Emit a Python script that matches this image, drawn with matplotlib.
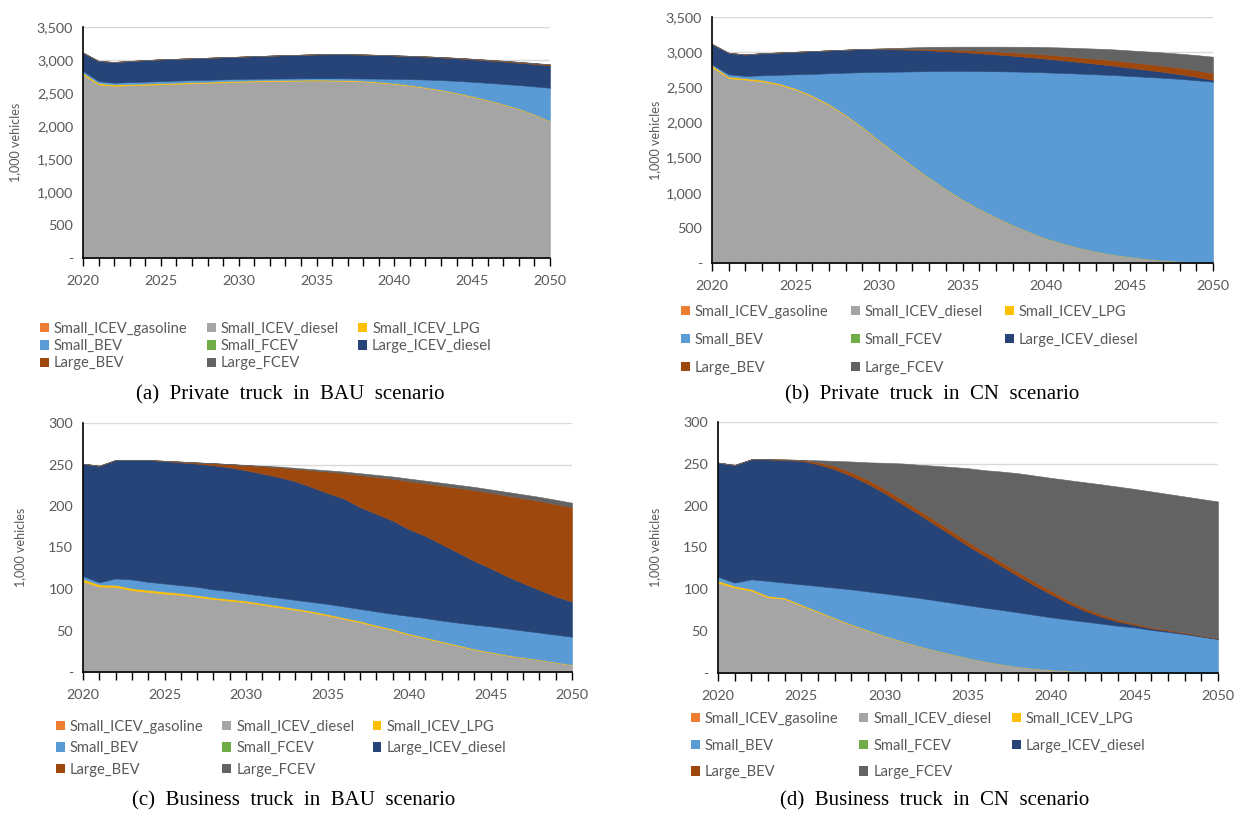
import matplotlib.pyplot as plt
import numpy as np
from matplotlib.patches import Patch
from matplotlib.ticker import FuncFormatter, MultipleLocator

years = np.arange(2020, 2051)

labels = ["Small_ICEV_gasoline", "Small_ICEV_diesel", "Small_ICEV_LPG", "Small_BEV",
          "Small_FCEV", "Large_ICEV_diesel", "Large_BEV", "Large_FCEV"]
colors = ["#ED7D31", "#A5A5A5", "#FFC000", "#5B9BD5",
          "#70AD47", "#264478", "#9E480E", "#636363"]

# unused powertrains (no stock in any scenario)
none = [0, 0, 0, 0, 0, 0, 0, 0, 0, 0, 0, 0, 0, 0, 0, 0,
        0, 0, 0, 0, 0, 0, 0, 0, 0, 0, 0, 0, 0, 0, 0]

# (a) private truck, BAU
pb_small_diesel = [2780, 2630, 2610, 2618, 2625, 2632, 2640, 2648, 2655, 2663, 2670, 2676, 2680, 2684, 2688, 2690,
                   2688, 2684, 2676, 2660, 2640, 2612, 2580, 2542, 2496, 2445, 2388, 2326, 2258, 2172, 2070]
pb_small_lpg = [25, 22, 20, 19, 18, 18, 17, 17, 16, 16, 15, 15, 15, 14, 14, 14,
                13, 13, 12, 12, 12, 11, 11, 10, 10, 10, 9, 9, 8, 8, 8]
pb_small_bev = [29, 28, 26, 28, 29, 30, 31, 30, 29, 27, 27, 25, 23, 22, 20, 20,
                23, 25, 32, 46, 63, 87, 113, 144, 178, 215, 257, 303, 354, 420, 502]
pb_large_diesel = [278, 305, 314, 320, 326, 330, 330, 331, 334, 336, 338, 342, 348, 354, 358, 362,
                   363, 365, 363, 358, 353, 349, 346, 342, 341, 340, 339, 339, 339, 339, 338]
pb_large_bev = [0, 0, 0, 0, 0, 0, 0, 0, 0, 0, 0, 0, 0, 0, 0, 0,
                0, 0, 1, 2, 3, 4, 5, 6, 7, 8, 9, 10, 11, 12, 13]
pb_large_fcev = [0, 0, 0, 0, 0, 0, 0, 0, 0, 0, 0, 0, 0, 0, 0, 0,
                 0, 0, 0, 0, 1, 1, 1, 2, 2, 2, 3, 3, 3, 4, 4]

# (b) private truck, CN
pc_small_diesel = [2790, 2630, 2610, 2585, 2540, 2470, 2370, 2250, 2100, 1930, 1740, 1560, 1380, 1210, 1050, 900,
                   770, 650, 540, 440, 350, 280, 215, 165, 120, 90, 60, 40, 25, 12, 5]
pc_small_lpg = [25, 22, 20, 20, 18, 16, 15, 14, 12, 10, 9, 8, 7, 6, 5, 5,
                4, 4, 3, 3, 2, 2, 2, 1, 1, 1, 1, 0, 0, 0, 0]
pc_small_bev = [11, 33, 31, 65, 120, 199, 305, 436, 596, 775, 971, 1154, 1339, 1514, 1677, 1827,
                1956, 2074, 2182, 2277, 2360, 2422, 2478, 2519, 2554, 2571, 2587, 2595, 2595, 2588, 2575]
pc_large_diesel = [289, 305, 306, 315, 317, 320, 325, 325, 327, 330, 325, 318, 308, 296, 282, 268,
                   254, 240, 225, 210, 195, 180, 165, 150, 135, 118, 102, 85, 68, 48, 25]
pc_large_bev = [0, 0, 0, 0, 0, 0, 0, 0, 0, 0, 5, 10, 15, 20, 25, 30,
                36, 42, 48, 54, 60, 64, 68, 72, 76, 80, 84, 88, 92, 95, 98]
pc_large_fcev = [0, 0, 0, 0, 0, 0, 0, 0, 0, 0, 2, 10, 19, 29, 38, 48,
                 58, 68, 79, 92, 105, 118, 130, 143, 154, 165, 176, 187, 198, 215, 232]

# (c) business truck, BAU
bb_small_diesel = [109, 103, 102.5, 98.5, 96.5, 94.5, 93, 90.5, 88, 86, 84, 81, 78, 75, 72, 68,
                   64, 60, 55, 50.5, 45, 40.5, 36, 31.5, 27, 23.5, 20, 17, 14.5, 11.5, 8.5]
bb_small_lpg = [3, 2.5, 2.5, 2.5, 2.5, 2.5, 2.2, 2.2, 2, 2, 2, 2, 2, 1.8, 1.8, 1.8,
                1.6, 1.6, 1.5, 1.5, 1.4, 1.3, 1.2, 1.1, 1, 0.9, 0.8, 0.7, 0.6, 0.5, 0.5]
bb_small_bev = [3.5, 2.5, 7.7, 10.5, 9.6, 9.6, 9.4, 9.9, 9.5, 9.5, 8.5, 9, 9.5, 10.2, 10.7, 12.2,
                13.4, 14.4, 16.5, 18, 21.1, 23.2, 24.8, 26.9, 29, 30.6, 31.7, 32.3, 32.4, 33, 33.5]
bb_large_diesel = [135.5, 140.5, 142.7, 143.9, 146.8, 147.4, 147.9, 148.4, 149.5, 149, 148.5, 147, 145.5, 143, 138.5, 133.7,
                   130, 122.6, 117.5, 112.4, 104.5, 99, 92, 84.5, 77, 70, 63, 57, 51.5, 46, 42.5]
bb_large_bev = [0, 0, 0, 0, 0, 0.5, 1, 1.5, 2.5, 4, 6.2, 9, 11.7, 15, 20.2, 25.7,
                30.6, 38.7, 44.5, 50.4, 58, 63.3, 70.6, 77.9, 85.2, 91, 97.2, 102.4, 107.1, 111.3, 113.5]
bb_large_fcev = [0, 0, 0, 0, 0, 0, 0, 0, 0, 0, 0.3, 0.5, 0.8, 1, 1.3, 1.6,
                 1.9, 2.2, 2.5, 2.7, 3, 3.2, 3.4, 3.6, 3.8, 4, 4.3, 4.6, 4.9, 5.2, 5.5]

# (d) business truck, CN
bc_small_diesel = [108, 102, 98.5, 90.5, 88.5, 80.5, 73, 65, 57.5, 50.5, 44, 38, 32.2, 27.2, 22.5, 17.8,
                   13.9, 10.6, 7.5, 5.5, 3.9, 2.7, 1.9, 1.2, 0.8, 0.5, 0.3, 0.2, 0.1, 0.05, 0]
bc_small_lpg = [2.5, 2.2, 2, 1.8, 1.6, 1.4, 1.2, 1, 0.9, 0.8, 0.6, 0.5, 0.4, 0.3, 0.3, 0.2,
                0.2, 0.1, 0.1, 0.1, 0.1, 0, 0, 0, 0, 0, 0, 0, 0, 0, 0]
bc_small_bev = [4.5, 3.8, 11.5, 17.7, 17.9, 24.1, 29.8, 36, 41.6, 46.2, 50.4, 54, 57.4, 59.5, 61.2, 63,
                63.9, 64.8, 64.9, 63.9, 62.5, 61.3, 59.6, 57.8, 55.7, 54, 51.2, 48.8, 46.4, 43.45, 40.5]
bc_large_diesel = [136.5, 140.7, 143.4, 145.2, 146.5, 147.5, 145.5, 141.5, 135.5, 128.5, 120, 110, 100.5, 90.5, 81, 71,
                   62, 52.5, 43.5, 35, 27.5, 19.5, 13, 8.3, 5, 3, 2, 1.5, 1, 0.7, 0.5]
bc_large_bev = [0, 0, 0, 0.3, 0.7, 1.2, 2.5, 4, 4.6, 5, 5.3, 5.5, 5.3, 5.2, 5, 5,
                4.8, 4.8, 4.7, 4.5, 4.3, 3.5, 3.2, 2.7, 2.3, 1.8, 1.5, 1.2, 1, 0.8, 0.6]
bc_large_fcev = [0, 0, 0, 0, 0, 0.1, 2.2, 6, 12.7, 20.8, 30.9, 42.5, 53.2, 65, 76.3, 87.8,
                 97.6, 108, 118.1, 127, 134.9, 143.6, 150.3, 155.5, 159, 160.7, 162, 162.3, 162.5, 163, 163.4]

W, H = 1241, 815
SANS = "Lato"
TEXT_GRAY = "#595959"


def px_rect(left, top, right, bottom):
    return [left / W, 1 - bottom / H, (right - left) / W, (bottom - top) / H]


def dash_zero(v, pos):
    return "-" if v == 0 else f"{v:,.0f}"


panels = [
    dict(stack=[none, pb_small_diesel, pb_small_lpg, pb_small_bev, none, pb_large_diesel, pb_large_bev, pb_large_fcev],
         box=(83, 27, 550, 258), ymax=3500, ystep=500, ylab_x=15,
         leg=(40, 322), leg_space=0.22, col_space=1.3,
         caption="(a)  Private  truck  in  BAU  scenario", cap=(290, 395)),
    dict(stack=[none, pc_small_diesel, pc_small_lpg, pc_small_bev, none, pc_large_diesel, pc_large_bev, pc_large_fcev],
         box=(712, 17, 1213, 263), ymax=3500, ystep=500, ylab_x=655,
         leg=(681, 305), leg_space=0.95, col_space=1.5,
         caption="(b)  Private  truck  in  CN  scenario", cap=(932, 395)),
    dict(stack=[none, bb_small_diesel, bb_small_lpg, bb_small_bev, none, bb_large_diesel, bb_large_bev, bb_large_fcev],
         box=(83, 423, 572, 672), ymax=300, ystep=50, ylab_x=20,
         leg=(56, 720), leg_space=0.5, col_space=1.25,
         caption="(c)  Business  truck  in  BAU  scenario", cap=(294, 801)),
    dict(stack=[none, bc_small_diesel, bc_small_lpg, bc_small_bev, none, bc_large_diesel, bc_large_bev, bc_large_fcev],
         box=(718, 422, 1218, 673), ymax=300, ystep=50, ylab_x=655,
         leg=(691, 712), leg_space=0.85, col_space=1.4,
         caption="(d)  Business  truck  in  CN  scenario", cap=(935, 801)),
]

fig = plt.figure(figsize=(W / 100, H / 100), dpi=100)

# legend entries are listed column by column so that they read row by row
leg_order = [0, 3, 6, 1, 4, 7, 2, 5]

for p in panels:
    ax = fig.add_axes(px_rect(*p["box"]))
    layers = ax.stackplot(years, *p["stack"], colors=colors)
    for poly, values, c in zip(layers, p["stack"], colors):
        # outline in the fill colour hides seams; empty layers get no outline
        poly.set_edgecolor(c)
        poly.set_linewidth(0.4 if max(values) > 0 else 0)

    ax.set_xlim(2020, 2050)
    ax.set_ylim(0, p["ymax"])
    ax.xaxis.set_major_locator(MultipleLocator(5))
    ax.xaxis.set_minor_locator(MultipleLocator(1))
    ax.yaxis.set_major_locator(MultipleLocator(p["ystep"]))
    ax.yaxis.set_major_formatter(FuncFormatter(dash_zero))
    ax.tick_params(axis="x", which="both", direction="out", length=6, width=1, color="black",
                   labelsize=10.4, labelcolor=TEXT_GRAY, pad=6)
    ax.tick_params(axis="y", length=0, labelsize=10.4, labelcolor=TEXT_GRAY, pad=7)
    for t in ax.get_xticklabels() + ax.get_yticklabels():
        t.set_fontfamily(SANS)

    ax.grid(axis="y", color="#D9D9D9", linewidth=1)
    ax.set_axisbelow(True)
    for side in ("top", "right"):
        ax.spines[side].set_visible(False)
    for side in ("left", "bottom"):
        ax.spines[side].set_color("black")
        ax.spines[side].set_linewidth(1.2)

    top, bottom = p["box"][1], p["box"][3]
    fig.text(p["ylab_x"] / W, 1 - (top + bottom) / 2 / H, "1,000 vehicles", rotation=90,
             ha="center", va="center", fontsize=9, color=TEXT_GRAY, family=SANS)

    handles = [Patch(facecolor=c, edgecolor="none") for c in colors]
    fig.legend([handles[i] for i in leg_order], [labels[i] for i in leg_order],
               ncol=3, loc="upper left", bbox_to_anchor=(p["leg"][0] / W, 1 - p["leg"][1] / H),
               frameon=False, borderpad=0, borderaxespad=0, handlelength=0.6, handleheight=0.6,
               handletextpad=0.35, columnspacing=p["col_space"], labelspacing=p["leg_space"],
               prop={"family": SANS, "size": 10.6}, labelcolor=TEXT_GRAY)

    fig.text(p["cap"][0] / W, 1 - p["cap"][1] / H, p["caption"], ha="center", va="center",
             fontsize=15, family="Liberation Serif", color="black")

fig.savefig("out.png", dpi=100)
